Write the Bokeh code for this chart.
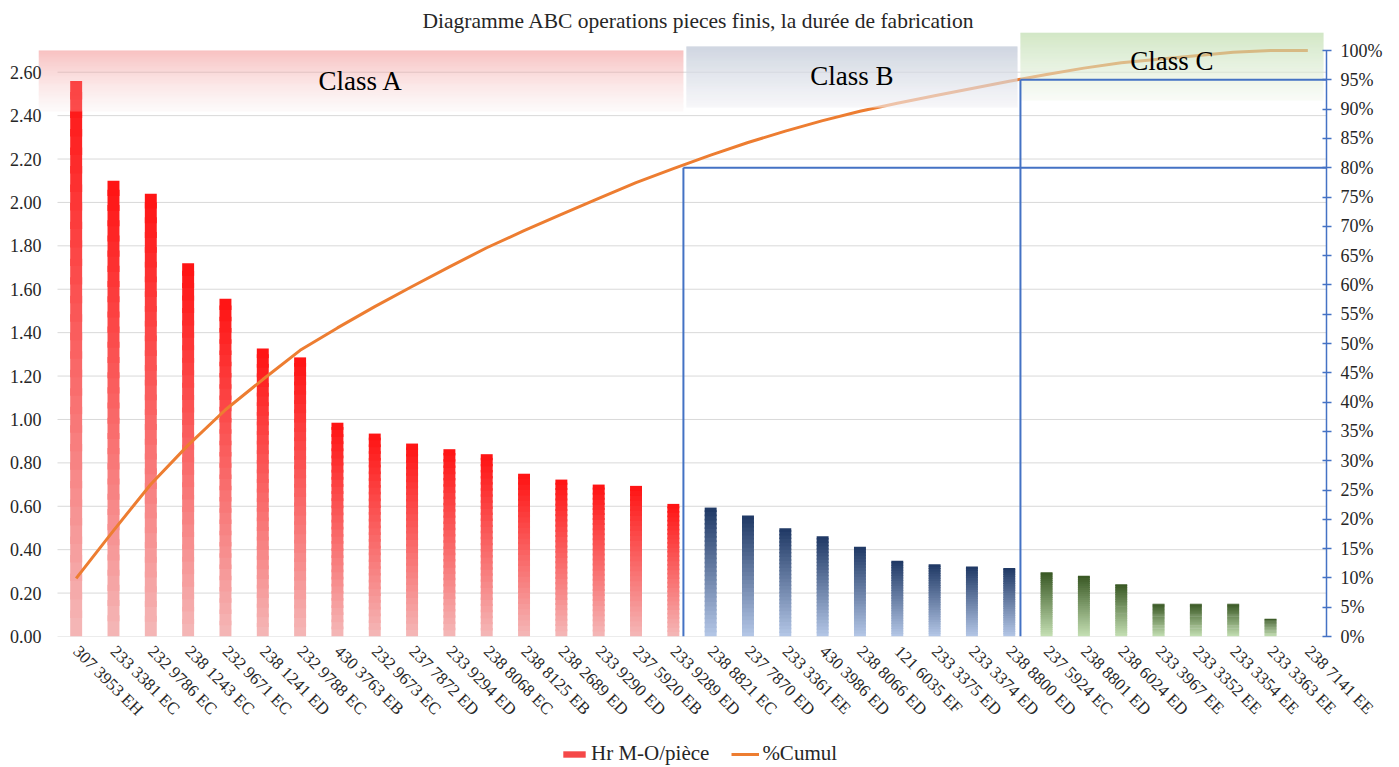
import math
import numpy as np
from bokeh.plotting import figure
from bokeh.layouts import column
from bokeh.models import (Range1d, LinearAxis, FixedTicker, NumeralTickFormatter,
                          PrintfTickFormatter, ColumnDataSource, Legend, LegendItem)
from bokeh.core.properties import value
from bokeh.embed import file_html
from bokeh.resources import INLINE

# ---------------- data ----------------
parts_A = ["307 3953 EH", "233 3381 EC", "232 9786 EC", "238 1243 EC", "232 9671 EC",
           "238 1241 ED", "232 9788 EC", "430 3763 EB", "232 9673 EC", "237 7872 ED",
           "233 9294 ED", "238 8068 EC", "238 8125 EB", "238 2689 ED", "233 9290 ED",
           "237 5920 EB", "233 9289 ED"]
hours_A = [2.56, 2.10, 2.04, 1.72, 1.556, 1.327, 1.286, 0.985, 0.935, 0.889,
           0.863, 0.840, 0.750, 0.723, 0.700, 0.694, 0.611]
parts_B = ["238 8821 EC", "237 7870 ED", "233 3361 EE", "430 3986 ED", "238 8066 ED",
           "121 6035 EF", "233 3375 ED", "233 3374 ED", "238 8800 ED"]
hours_B = [0.594, 0.558, 0.499, 0.462, 0.413, 0.349, 0.333, 0.323, 0.316]
parts_C = ["237 5924 EC", "238 8801 ED", "238 6024 ED", "233 3967 EE", "233 3352 EE",
           "233 3354 EE", "233 3363 EE", "238 7141 EE"]
hours_C = [0.296, 0.280, 0.241, 0.151, 0.151, 0.151, 0.082, 0.0]

class_names = ["Class A", "Class B", "Class C"]
class_limits_pct = [80, 95]
left_ticks = [0.0, 0.2, 0.4, 0.6, 0.8, 1.0, 1.2, 1.4, 1.6, 1.8, 2.0, 2.2, 2.4, 2.6]
right_ticks = list(range(0, 101, 5))
left_axis_max = 2.70

title_text = "Diagramme ABC operations pieces finis, la durée de fabrication"
series_names = ["Hr M-O/pièce", "%Cumul"]

# ---------------- derived ----------------
cats = parts_A + parts_B + parts_C
hours = hours_A + hours_B + hours_C
n = len(cats)
xs = list(range(n))
cum_pct = list(np.cumsum(hours) / np.sum(hours) * 100.0)
groups = [0] * len(parts_A) + [1] * len(parts_B) + [2] * len(parts_C)

# ---------------- layout / style ----------------
W, H1, H2 = 1390, 730, 36
FL, FR, FT, FB = 38, 1326, 32, 636   # frame edges (px); FB is also where 0 sits
AXIS_TOP = 50                        # px where 2.70 / 100% sits
CAT_L = 57                           # left edge of category area
px_per_cat = (FR - CAT_L) / n
x_start = -0.5 - (CAT_L - FL) / px_per_cat
x_end = x_start + (FR - FL) / px_per_cat
ppu = (FB - AXIS_TOP) / left_axis_max
y_end = (FB - FT) / ppu
pct_end = 100.0 * (FB - FT) / (FB - AXIS_TOP)

FONT = "Liberation Serif"
TXT = "#262626"

bar_top_cols = [(255, 18, 18), (31, 56, 100), (56, 87, 35)]
bar_bot_cols = [(244, 184, 184), (180, 199, 231), (197, 224, 180)]

# band shapes (data units: x categories, y left axis)
band_x0 = [x_start, 16.35, 25.30]
band_x1 = [16.27, 25.22, 33.42]
band_y0 = [2.419, 2.438, 2.470]
band_y1 = [2.700, 2.719, y_end]
band_label_dy = [0, -1, -5]          # px nudges of the class captions
band_top_cols = [(240, 100, 100), (188, 197, 212), (185, 218, 165)]
band_bot_cols = [(246, 236, 236), (242, 242, 246), (244, 248, 241)]
band_top_alpha = [0.45, 0.92, 0.8]
band_bot_alpha = [0.25, 0.75, 0.6]
split_x = [16.27, 25.30]
BLUE = "#4472C4"
ORANGE = "#ED7D31"


def lerp(c0, c1, t):
    return tuple(int(round(a + (b - a) * t)) for a, b in zip(c0, c1))


def hexc(c):
    return "#%02x%02x%02x" % c


p = figure(width=W, height=H1, output_backend="svg", toolbar_location=None,
           x_range=Range1d(x_start, x_end), y_range=Range1d(0, y_end),
           min_border_left=FL, min_border_right=W - FR, min_border_top=FT,
           min_border_bottom=H1 - FB, outline_line_color=None)
p.title.text = title_text
p.title.align = "left"
p.title.offset = 384
p.title.text_font = FONT
p.title.text_font_size = "21.5px"
p.title.text_font_style = "normal"
p.title.text_color = TXT
p.title.standoff = 0
p.grid.visible = False
p.background_fill_color = "white"
p.border_fill_color = "white"

p.extra_y_ranges = {"pct": Range1d(0, pct_end)}

# gridlines
p.segment(x0=[-0.5] * len(left_ticks), x1=[n - 0.5] * len(left_ticks),
          y0=left_ticks, y1=left_ticks, line_color="#D9D9D9", line_width=1)

# gradient bars
N = 30
bx, bb, bt, bc = [], [], [], []
for i, h in enumerate(hours):
    g = groups[i]
    for k in range(N):
        t = (k + 0.5) / N
        bot = h * k / N
        top = h * (k + 1) / N
        if k < N - 1:
            top += h * 0.4 / N
        bx.append(i); bb.append(bot); bt.append(top)
        bc.append(hexc(lerp(bar_bot_cols[g], bar_top_cols[g], t)))
p.vbar(x="x", bottom="b", top="t", width=0.32, fill_color="c", line_color=None,
       source=ColumnDataSource(dict(x=bx, b=bb, t=bt, c=bc)))

# cumulative line
line_r = p.line(xs, cum_pct, y_range_name="pct", line_color=ORANGE, line_width=3)

# bands (gradient overlays), one strip per pixel row
qx0, qx1, qy0, qy1, qc, qa = [], [], [], [], [], []
for j in range(3):
    r_top = int(round(FB - band_y1[j] * ppu))
    r_bot = int(round(FB - band_y0[j] * ppu))
    rows = r_bot - r_top
    for k in range(rows):
        t = (k + 0.5) / rows          # 0 at bottom, 1 at top
        py_bottom = r_bot - k
        qx0.append(band_x0[j]); qx1.append(band_x1[j])
        qy0.append((FB - py_bottom) / ppu)
        qy1.append((FB - py_bottom + 1) / ppu)
        qc.append(hexc(lerp(band_bot_cols[j], band_top_cols[j], t)))
        qa.append(band_bot_alpha[j] + (band_top_alpha[j] - band_bot_alpha[j]) * t)
p.quad(left="l", right="r", bottom="b", top="t", fill_color="c", fill_alpha="a",
       line_color=None, source=ColumnDataSource(dict(l=qx0, r=qx1, b=qy0, t=qy1, c=qc, a=qa)))

# class limit lines
p.segment(x0=split_x, x1=split_x, y0=[0, 0], y1=class_limits_pct,
          y_range_name="pct", line_color=BLUE, line_width=2)
p.segment(x0=split_x, x1=[x_end + 1, x_end + 1], y0=class_limits_pct, y1=class_limits_pct,
          y_range_name="pct", line_color=BLUE, line_width=2)

# class labels
lab_src = ColumnDataSource(dict(
    x=[(a + b) / 2 for a, b in zip(band_x0, band_x1)],
    y=[(a + b) / 2 for a, b in zip(band_y0, band_y1)],
    text=class_names, dy=band_label_dy))
p.text(x="x", y="y", text="text", y_offset="dy", source=lab_src,
       text_font=value(FONT), text_font_size="27px",
       text_align="center", text_baseline="middle", text_color="#000000")

# axes
ya = p.yaxis[0]
ya.ticker = FixedTicker(ticks=left_ticks)
ya.formatter = NumeralTickFormatter(format="0.00")
ya.axis_line_color = None
ya.major_tick_line_color = None
ya.minor_tick_line_color = None
ya.major_tick_in = 0
ya.major_tick_out = 0
ya.major_label_standoff = -3
ya.major_label_text_font = FONT
ya.major_label_text_font_size = "18px"
ya.major_label_text_color = TXT

ra = LinearAxis(y_range_name="pct", ticker=FixedTicker(ticks=right_ticks),
                formatter=PrintfTickFormatter(format="%d%%"), bounds=(0, 100))
ra.axis_line_color = BLUE
ra.axis_line_width = 1.5
ra.major_tick_line_color = BLUE
ra.major_tick_line_width = 1.5
ra.major_tick_in = 4
ra.major_tick_out = 5
ra.minor_tick_line_color = None
ra.major_label_standoff = 9
ra.major_label_text_font = FONT
ra.major_label_text_font_size = "18px"
ra.major_label_text_color = TXT
p.add_layout(ra, "right")

xa = p.xaxis[0]
xa.ticker = FixedTicker(ticks=xs)
xa.major_label_overrides = {i: c for i, c in zip(xs, cats)}
xa.axis_line_color = None
xa.major_tick_line_color = None
xa.minor_tick_line_color = None
xa.major_tick_in = 0
xa.major_tick_out = 0
xa.major_label_orientation = -math.pi / 4
xa.major_label_standoff = 12
xa.major_label_text_font = FONT
xa.major_label_text_font_size = "17px"
xa.major_label_text_color = TXT

# legend strip under the chart
p2 = figure(width=W, height=H2, output_backend="svg", toolbar_location=None,
            x_range=Range1d(0, 1), y_range=Range1d(0, 1),
            x_axis_location=None, y_axis_location=None, min_border=0,
            outline_line_color=None)
p2.grid.visible = False
sw_bar = p2.rect(x=[-5], y=[-5], width=1, height=1, fill_color="#F54848", line_color=None)
sw_line = p2.line(x=[-5, -4], y=[-5, -5], line_color=ORANGE, line_width=3)
legend = Legend(items=[LegendItem(label=series_names[0], renderers=[sw_bar]),
                       LegendItem(label=series_names[1], renderers=[sw_line])],
                orientation="horizontal", location=(522, 0),
                border_line_color=None, background_fill_alpha=0,
                label_text_font=FONT, label_text_font_size="21px", label_text_color=TXT,
                glyph_width=28, glyph_height=8, spacing=22, label_standoff=3,
                padding=0, margin=0)
p2.add_layout(legend, "center")

open("out.html", "w").write(file_html(column(p, p2, spacing=0), INLINE))
